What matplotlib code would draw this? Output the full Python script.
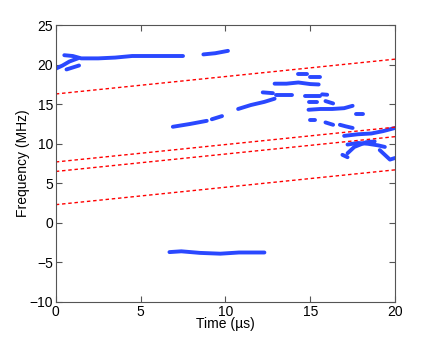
import numpy as np
import matplotlib
matplotlib.use("Agg")
import matplotlib.pyplot as plt

# ridge segments (time in us, frequency in MHz)
seg_t = [
    [0.0, 0.4, 0.8, 1.3],
    [0.63, 1.0, 1.37],
    [0.5, 1.0, 1.5, 2.5, 3.5, 4.5, 5.5, 6.5, 7.5],
    [8.7, 9.4, 10.15],
    [6.9, 7.9, 8.9],
    [9.2, 9.5, 9.8],
    [10.75, 11.5, 12.3, 12.9],
    [12.2, 12.5, 12.8],
    [13.0, 13.5, 13.9],
    [12.9, 13.6, 14.3, 15.0, 15.5],
    [14.3, 14.8],
    [15.0, 15.6],
    [14.7, 15.2, 15.6],
    [15.7, 16.0],
    [15.9, 16.35],
    [14.9, 15.4],
    [14.9, 15.6, 16.3, 17.0, 17.5],
    [17.7, 18.1],
    [15.0, 15.3],
    [15.9, 16.35],
    [16.75, 17.1, 17.5],
    [17.0, 17.8, 18.6, 19.3, 20.0],
    [17.2, 17.8, 18.4, 19.0, 19.4],
    [17.2, 17.6, 18.3, 18.8],
    [16.9, 17.2],
    [19.1, 19.4, 19.7, 20.0],
    [6.7, 7.4, 8.5, 9.7, 10.8, 12.3],
]
seg_f = [
    [19.5, 19.9, 20.4, 20.8],
    [19.4, 19.65, 19.9],
    [21.2, 21.1, 20.8, 20.8, 20.9, 21.1, 21.1, 21.1, 21.1],
    [21.3, 21.45, 21.75],
    [12.15, 12.5, 12.9],
    [13.1, 13.3, 13.5],
    [14.4, 14.9, 15.3, 15.7],
    [16.5, 16.45, 16.4],
    [16.15, 16.15, 16.15],
    [17.6, 17.6, 17.75, 17.55, 17.5],
    [18.8, 18.8],
    [18.5, 18.5],
    [16.0, 16.0, 16.0],
    [16.25, 16.2],
    [15.4, 15.1],
    [15.3, 15.3],
    [14.3, 14.4, 14.4, 14.5, 14.8],
    [13.75, 13.75],
    [13.0, 13.0],
    [12.7, 12.4],
    [12.4, 12.2, 12.0],
    [11.0, 11.2, 11.3, 11.6, 12.0],
    [9.9, 10.1, 10.0, 9.8, 9.6],
    [8.8, 9.6, 10.2, 10.3],
    [8.6, 8.3],
    [9.2, 8.6, 8.0, 8.2],
    [-3.7, -3.6, -3.8, -3.9, -3.75, -3.75],
]

# linear reference lines f = f0 + slope * t
line_f0 = [16.3, 7.7, 6.5, 2.3]
line_slope = 0.22
t_range = [0, 20]

plt.rcParams['font.family'] = ['Liberation Sans', 'DejaVu Sans']
fig = plt.figure(figsize=(4.36, 3.40), dpi=100)
ax = fig.add_axes([0.128, 0.112, 0.778, 0.814])

for t, f in zip(seg_t, seg_f):
    ax.plot(t, f, color='#2a48ff', lw=2.8, solid_capstyle='round')

tt = np.array(t_range)
for f0 in line_f0:
    ax.plot(tt, f0 + line_slope * tt, color='red', lw=1.0, ls=(0, (2.5, 2)))

ax.set_xlim(0, 20)
ax.set_ylim(-10, 25)
ax.set_xticks([0, 5, 10, 15, 20])
ax.set_yticks(range(-10, 30, 5))
ax.tick_params(direction='in', top=True, right=True, labelsize=10, length=4,
               color='#555555', pad=2)
for s in ax.spines.values():
    s.set_color('#555555')
    s.set_linewidth(0.8)
ax.set_xlabel('Time (\u00b5s)', fontsize=10, labelpad=-1)
ax.set_ylabel('Frequency (MHz)', fontsize=10, labelpad=0)

fig.savefig('out.png', dpi=100)
